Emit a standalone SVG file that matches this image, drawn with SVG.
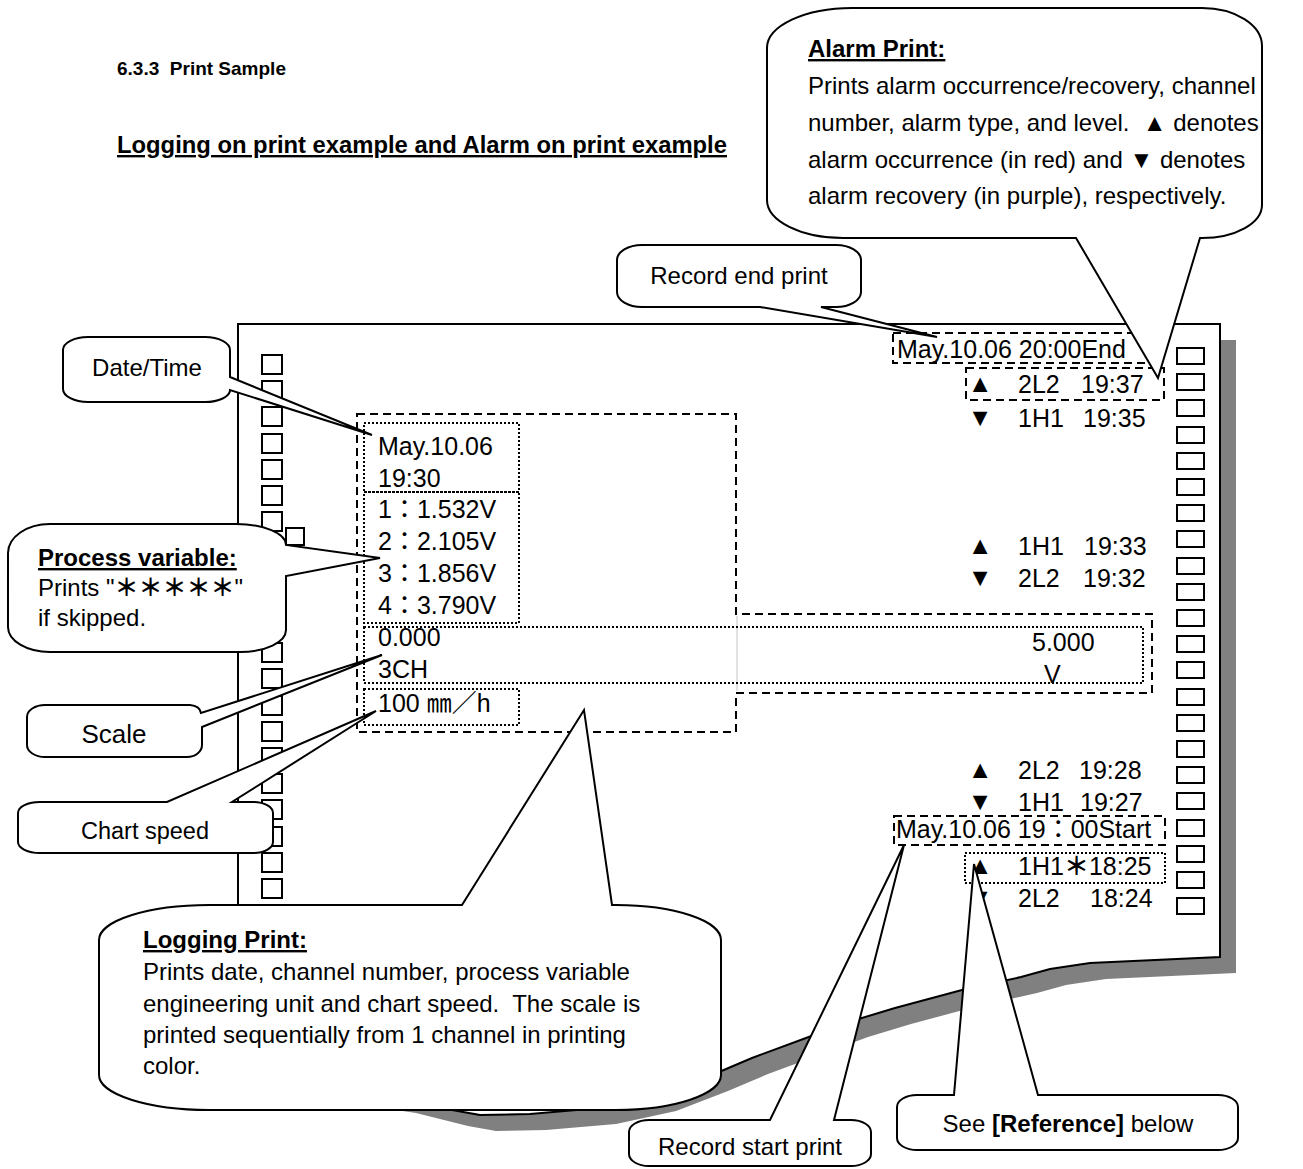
<svg xmlns="http://www.w3.org/2000/svg" xmlns:xlink="http://www.w3.org/1999/xlink" width="1303" height="1169" viewBox="0 0 1303 1169">
<style>
text{font-family:"Liberation Sans",Arial,"Noto Sans CJK JP",sans-serif;fill:#000}
.b{font-weight:bold}
.u{text-decoration:underline}
.f24{font-size:24px}
.f25{font-size:25px}
.sym{font-size:25px;text-anchor:middle}
.ast{font-weight:bold;font-family:"Noto Sans CJK JP",sans-serif}
.co{fill:#fff;stroke:#000;stroke-width:2;stroke-linejoin:miter}
.sq{fill:#fff;stroke:#000;stroke-width:2}
.dash{fill:none;stroke:#000;stroke-width:2;stroke-dasharray:8 5}
.dot{fill:none;stroke:#000;stroke-width:2;stroke-dasharray:2 2}
.mid{text-anchor:middle}
</style>
<defs>
<rect id="ls" class="sq" width="20" height="19"/>
<rect id="rs" class="sq" width="27" height="16"/>
</defs>

<g id="headings">
<text class="b" x="117" y="75" font-size="19" xml:space="preserve">6.3.3  Print Sample</text>
<text class="b u" x="117" y="153" font-size="23.8">Logging on print example and Alarm on print example</text>
</g>

<g id="paper">
<path transform="translate(16,16)" fill="#808080" d="M238,324 H1220 V957 L1090,963 L1050,969 L1021,977 L962,990 L895,1008 L852,1021 L806,1038 L752,1058 L712,1075 L660,1095 L600,1108 L530,1114 L480,1115 L452,1110 L400,1097 L320,1085 L238,1078 Z"/>
<path fill="#fff" stroke="#000" stroke-width="2" d="M238,324 H1220 V957 L1090,963 L1050,969 L1021,977 L962,990 L895,1008 L852,1021 L806,1038 L752,1058 L712,1075 L660,1095 L600,1108 L530,1114 L480,1115 L452,1110 L400,1097 L320,1085 L238,1078 Z"/>
</g>

<g id="left-holes">
<use xlink:href="#ls" x="262" y="355"/><use xlink:href="#ls" x="262" y="381"/><use xlink:href="#ls" x="262" y="407"/><use xlink:href="#ls" x="262" y="434"/><use xlink:href="#ls" x="262" y="460"/><use xlink:href="#ls" x="262" y="486"/><use xlink:href="#ls" x="262" y="512"/><use xlink:href="#ls" x="262" y="538"/><use xlink:href="#ls" x="262" y="565"/><use xlink:href="#ls" x="262" y="591"/><use xlink:href="#ls" x="262" y="617"/><use xlink:href="#ls" x="262" y="643"/><use xlink:href="#ls" x="262" y="669"/><use xlink:href="#ls" x="262" y="696"/><use xlink:href="#ls" x="262" y="722"/><use xlink:href="#ls" x="262" y="748"/><use xlink:href="#ls" x="262" y="774"/><use xlink:href="#ls" x="262" y="800"/><use xlink:href="#ls" x="262" y="827"/><use xlink:href="#ls" x="262" y="853"/><use xlink:href="#ls" x="262" y="879"/><use xlink:href="#ls" x="262" y="905"/>
<rect class="sq" x="286" y="528" width="18" height="17"/>
</g>

<g id="right-holes">
<use xlink:href="#rs" x="1177" y="348"/><use xlink:href="#rs" x="1177" y="374"/><use xlink:href="#rs" x="1177" y="400"/><use xlink:href="#rs" x="1177" y="427"/><use xlink:href="#rs" x="1177" y="453"/><use xlink:href="#rs" x="1177" y="479"/><use xlink:href="#rs" x="1177" y="505"/><use xlink:href="#rs" x="1177" y="531"/><use xlink:href="#rs" x="1177" y="558"/><use xlink:href="#rs" x="1177" y="584"/><use xlink:href="#rs" x="1177" y="610"/><use xlink:href="#rs" x="1177" y="636"/><use xlink:href="#rs" x="1177" y="662"/><use xlink:href="#rs" x="1177" y="689"/><use xlink:href="#rs" x="1177" y="715"/><use xlink:href="#rs" x="1177" y="741"/><use xlink:href="#rs" x="1177" y="767"/><use xlink:href="#rs" x="1177" y="793"/><use xlink:href="#rs" x="1177" y="820"/><use xlink:href="#rs" x="1177" y="846"/><use xlink:href="#rs" x="1177" y="872"/><use xlink:href="#rs" x="1177" y="898"/>
</g>

<g id="logging-area">
<path class="dash" d="M357,414 H736 V614 H1152 V693 H736 V732 H357 Z"/>
<line x1="737" y1="616" x2="737" y2="691" stroke="#d8d8d8" stroke-width="1.5"/>
<rect class="dot" x="364" y="423" width="155" height="69"/>
<rect class="dot" x="364" y="492" width="155" height="131"/>
<rect class="dot" x="364" y="627" width="779" height="56"/>
<rect class="dot" x="364" y="689" width="155" height="36"/>
<text class="f25" x="378" y="455">May.10.06</text>
<text class="f25" x="378" y="487">19:30</text>
<text class="f25" x="378" y="518">1：1.532V</text>
<text class="f25" x="378" y="550">2：2.105V</text>
<text class="f25" x="378" y="582">3：1.856V</text>
<text class="f25" x="378" y="614">4：3.790V</text>
<text class="f25" x="378" y="646">0.000</text>
<text class="f25" x="378" y="678">3CH</text>
<text class="f25" x="1032" y="651">5.000</text>
<text class="f25" x="1044" y="683">V</text>
<text class="f25" x="378" y="712">100 ㎜／h</text>
</g>

<g id="alarm-area">
<rect class="dash" x="893" y="333" width="267" height="30"/>
<text class="f25" x="897" y="358">May.10.06 20:00End</text>
<rect class="dash" x="966" y="368" width="198" height="32"/>
<text class="sym" x="980" y="392">▲</text><text class="f25" x="1018" y="393">2L2</text><text class="f25" x="1081" y="393">19:37</text>
<text class="sym" x="980" y="426">▼</text><text class="f25" x="1018" y="427">1H1</text><text class="f25" x="1083" y="427">19:35</text>
<text class="sym" x="980" y="554">▲</text><text class="f25" x="1018" y="555">1H1</text><text class="f25" x="1084" y="555">19:33</text>
<text class="sym" x="980" y="586">▼</text><text class="f25" x="1018" y="587">2L2</text><text class="f25" x="1083" y="587">19:32</text>
<text class="sym" x="980" y="778">▲</text><text class="f25" x="1018" y="779">2L2</text><text class="f25" x="1079" y="779">19:28</text>
<text class="sym" x="980" y="810">▼</text><text class="f25" x="1018" y="811">1H1</text><text class="f25" x="1080" y="811">19:27</text>
<rect class="dash" x="894" y="816" width="271" height="29"/>
<text class="f25" x="896" y="838">May.10.06 19：00Start</text>
<rect class="dot" x="965" y="853" width="200" height="30"/>
<text class="sym" x="980" y="874">▲</text><text class="f25" x="1018" y="875">1H1<tspan class="ast">＊</tspan>18:25</text>
<text class="sym" x="980" y="906">▼</text><text class="f25" x="1018" y="907">2L2</text><text class="f25" x="1090" y="907">18:24</text>
</g>

<g id="connectors"></g>

<g id="callout-alarm">
<path class="co" d="M852,8 H1202 A60,38 0 0 1 1262,46 V205 A60,33 0 0 1 1202,238 L1200,238 L1158,378 L1076,238 H843 A76,38 0 0 1 767,200 V48 A85,40 0 0 1 852,8 Z"/>
<text class="f24 b u" x="808" y="57">Alarm Print:</text>
<text class="f24" x="808" y="94">Prints alarm occurrence/recovery, channel</text>
<text class="f24" x="808" y="131" xml:space="preserve">number, alarm type, and level.  ▲ denotes</text>
<text class="f24" x="808" y="168">alarm occurrence (in red) and ▼ denotes</text>
<text class="f24" x="808" y="204">alarm recovery (in purple), respectively.</text>
</g>

<g id="callout-record-end">
<path class="co" d="M642,245 H836 A25,15 0 0 1 861,260 V292 A25,15 0 0 1 836,307 H821 L937,337 L760,307 H642 A25,15 0 0 1 617,292 V260 A25,15 0 0 1 642,245 Z"/>
<text class="f24 mid" x="739" y="284">Record end print</text>
</g>

<g id="callout-datetime">
<path class="co" d="M88,337 H205 A25,13 0 0 1 230,350 V377 L372,435 L230,390 A25,12 0 0 1 205,402 H88 A25,13 0 0 1 63,389 V350 A25,13 0 0 1 88,337 Z"/>
<text class="f24 mid" x="147" y="376">Date/Time</text>
</g>

<g id="callout-process">
<path class="co" d="M50,524 H236 A50,21 0 0 1 286,545 L380,558 L286,576 V630 A46,22 0 0 1 240,652 H50 A42,25 0 0 1 8,627 V553 A42,29 0 0 1 50,524 Z"/>
<text class="f24 b u" x="38" y="566">Process variable:</text>
<text class="f24" x="38" y="596">Prints "<tspan class="ast">＊＊＊＊＊</tspan>"</text>
<text class="f24" x="38" y="626">if skipped.</text>
</g>

<g id="callout-scale">
<path class="co" d="M45,705 H190 Q200,706 201,713 L382,655 L202,727 V745 A15,12 0 0 1 187,757 H45 A18,12 0 0 1 27,745 V717 A18,12 0 0 1 45,705 Z"/>
<text class="mid" x="114" y="743" font-size="26">Scale</text>
</g>

<g id="callout-chartspeed">
<path class="co" d="M40,802 H167 L376,711 L232,802 H253 A20,11 0 0 1 273,813 V842 A20,11 0 0 1 253,853 H40 A22,11 0 0 1 18,842 V813 A22,11 0 0 1 40,802 Z"/>
<text class="mid" x="145" y="839" font-size="23.5">Chart speed</text>
</g>

<g id="callout-logging">
<path class="co" d="M209,905 H462 L584,710 L612,905 H616 A105,35 0 0 1 721,940 V1075 A105,35 0 0 1 616,1110 H209 A110,35 0 0 1 99,1075 V940 A110,35 0 0 1 209,905 Z"/>
<text class="f24 b u" x="143" y="948">Logging Print:</text>
<text class="f24" x="143" y="980">Prints date, channel number, process variable</text>
<text class="f24" x="143" y="1012" xml:space="preserve">engineering unit and chart speed.  The scale is</text>
<text class="f24" x="143" y="1043">printed sequentially from 1 channel in printing</text>
<text class="f24" x="143" y="1074">color.</text>
</g>

<g id="callout-record-start">
<path class="co" d="M649,1120 H770 L904,845 L834,1120 H851 A20,12 0 0 1 871,1132 V1154 A20,12 0 0 1 851,1166 H649 A20,12 0 0 1 629,1154 V1132 A20,12 0 0 1 649,1120 Z"/>
<text class="f24 mid" x="750" y="1155">Record start print</text>
</g>

<g id="callout-reference">
<path class="co" d="M917,1095 H954 L974,864 L1038,1095 H1218 A20,12 0 0 1 1238,1107 V1138 A20,12 0 0 1 1218,1150 H917 A20,12 0 0 1 897,1138 V1107 A20,12 0 0 1 917,1095 Z"/>
<text class="f24 mid" x="1068" y="1132" xml:space="preserve">See <tspan class="b">[Reference]</tspan> below</text>
</g>
</svg>
